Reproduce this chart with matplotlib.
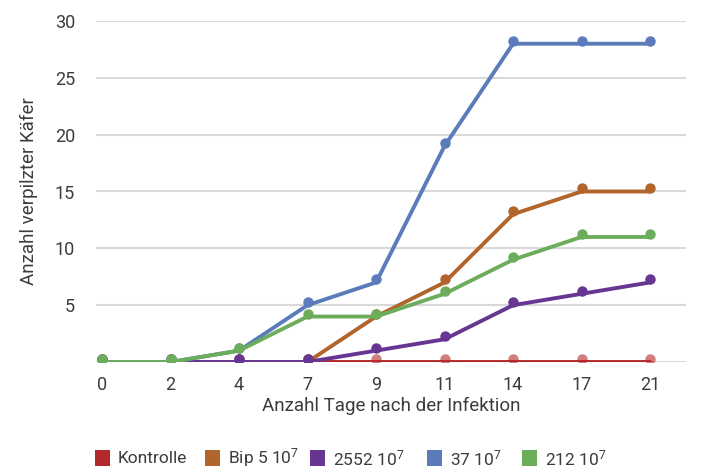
import matplotlib
matplotlib.use("Agg")
import matplotlib.pyplot as plt
from matplotlib.patches import Rectangle
from matplotlib import transforms

plt.rcParams['font.family'] = ['Roboto', 'DejaVu Sans']
plt.rcParams['mathtext.default'] = 'regular'

# days after infection (categorical axis)
days = ["0", "2", "4", "7", "9", "11", "14", "17", "21"]

kontrolle = [0, 0, 0, 0, 0, 0, 0, 0, 0]
bip5 = [0, 0, 0, 0, 4, 7, 13, 15, 15]
s2552 = [0, 0, 0, 0, 1, 2, 5, 6, 7]
s37 = [0, 0, 1, 5, 7, 19, 28, 28, 28]
s212 = [0, 0, 1, 4, 4, 6, 9, 11, 11]

labels = ["Kontrolle", "Bip 5 10$^7$", "2552 10$^7$", "37 10$^7$", "212 10$^7$"]
colors = ["#b3282a", "#b1652a", "#673592", "#5b7bbb", "#6cad5c"]

TXT = "#3c3c3c"
W, H = 705, 469

fig = plt.figure(figsize=(W / 100, H / 100), dpi=100)
ax = fig.add_axes([96 / W, 1 - 362 / H, 590 / W, 341 / H])

x = list(range(len(days)))
# dots sit a few pixels above the line
dot_tr = transforms.offset_copy(ax.transData, fig=fig, x=0, y=3, units='dots')

series = [kontrolle, bip5, s2552, s37, s212]
for i, (vals, c) in enumerate(zip(series, colors)):
    ax.plot(x, vals, color=c, lw=2.8, solid_capstyle='round', zorder=3 + i)
    ax.plot(x, vals, 'o', color=c, ms=7.5, mec='none', transform=dot_tr,
            alpha=0.6 if i == 0 else 1.0, zorder=3 + i)

ax.set_ylim(0, 30)
ax.set_xlim(-0.088, 8.525)
ax.set_yticks([0, 5, 10, 15, 20, 25, 30])
ax.set_yticklabels(["", "5", "10", "15", "20", "25", "30"])
ax.set_xticks(x)
ax.set_xticklabels(days)
ax.tick_params(length=0, labelsize=13, colors=TXT, pad=10)
ax.tick_params(axis='y', pad=15)
ax.grid(axis='y', color='#d9d9d9', lw=1.5)
ax.set_axisbelow(True)
for s in ax.spines.values():
    s.set_visible(False)

ax.set_xlabel("Anzahl Tage nach der Infektion", fontsize=13.5, color=TXT, labelpad=2)
ax.set_ylabel("Anzahl verpilzter Käfer", fontsize=13.5, color=TXT, labelpad=12)

# legend row along the bottom
sq_left = [95, 205, 310, 427, 522]
for x0, lab, c in zip(sq_left, labels, colors):
    fig.add_artist(Rectangle((x0 / W, 1 - 466 / H), 15 / W, 16 / H,
                             transform=fig.transFigure, facecolor=c, edgecolor='none'))
    fig.text((x0 + 23) / W, 1 - 458 / H, lab, fontsize=12.5, color=TXT,
             ha='left', va='center')

fig.savefig("out.png", dpi=100)
